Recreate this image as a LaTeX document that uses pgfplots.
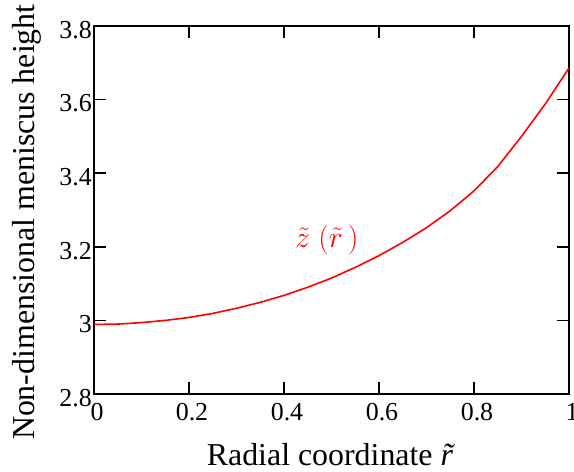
\documentclass[border=0pt]{standalone}
\usepackage{fix-cm}
\usepackage{fontspec}
\setmainfont{Liberation Serif}
\usepackage{pgfplots}
\pgfplotsset{compat=1.18}
\usetikzlibrary{calc}
\begin{document}
\begin{tikzpicture}
\begin{axis}[
  name=ax,
  scale only axis,
  width=475bp, height=368bp,
  xmin=0, xmax=1, ymin=2.8, ymax=3.8,
  xtick={0,0.2,0.4,0.6,0.8,1},
  ytick={2.8,3,3.2,3.4,3.6,3.8},
  xticklabels={\textrm{0},\textrm{0.2},\textrm{0.4},\textrm{0.6},\textrm{0.8},\textrm{1}},
  yticklabels={\textrm{2.8},\textrm{3},\textrm{3.2},\textrm{3.4},\textrm{3.6},\textrm{3.8}},
  tick align=inside,
  major tick length=12bp,
  axis line style={line width=1.6bp},
  every tick/.style={black, line width=1.6bp},
  /pgf/number format/assume math mode=true,
  xticklabel style={font=\fontsize{26}{28}\selectfont, inner sep=1bp, yshift=-8bp, xshift=3bp},
  yticklabel style={font=\fontsize{26}{28}\selectfont, inner sep=1bp, xshift=-1bp, yshift=-4bp},
  xlabel={Radial coordinate \textit{\~r}},
  ylabel={Non-dimensional meniscus height},
  xlabel style={font=\fontsize{32}{34}\selectfont, at={(axis description cs:0.51,-0.193)}, anchor=base},
  ylabel style={font=\fontsize{32}{34}\selectfont, at={(axis description cs:-0.126,0.467)}, anchor=base},
]
\addplot[red, line width=1.6bp] coordinates {
(0,2.989) (0.05,2.990) (0.1,2.994) (0.15,3.000) (0.2,3.008) (0.25,3.019)
(0.3,3.033) (0.35,3.049) (0.4,3.068) (0.45,3.090) (0.5,3.115) (0.55,3.144)
(0.6,3.176) (0.65,3.212) (0.7,3.252) (0.75,3.298) (0.8,3.352) (0.85,3.418)
(0.9,3.500) (0.95,3.588) (1.0,3.686)
};
\node[red, font=\fontsize{30}{32}\selectfont] at (axis cs:0.49,3.218) {$\tilde{z}\;\Bigl(\tilde{r}\,\Bigr)$};
\end{axis}
\pgfresetboundingbox
\useasboundingbox ($(ax.south west)+(-94bp,-78bp)$) rectangle ($(ax.north east)+(5bp,26bp)$);
\end{tikzpicture}
\end{document}
